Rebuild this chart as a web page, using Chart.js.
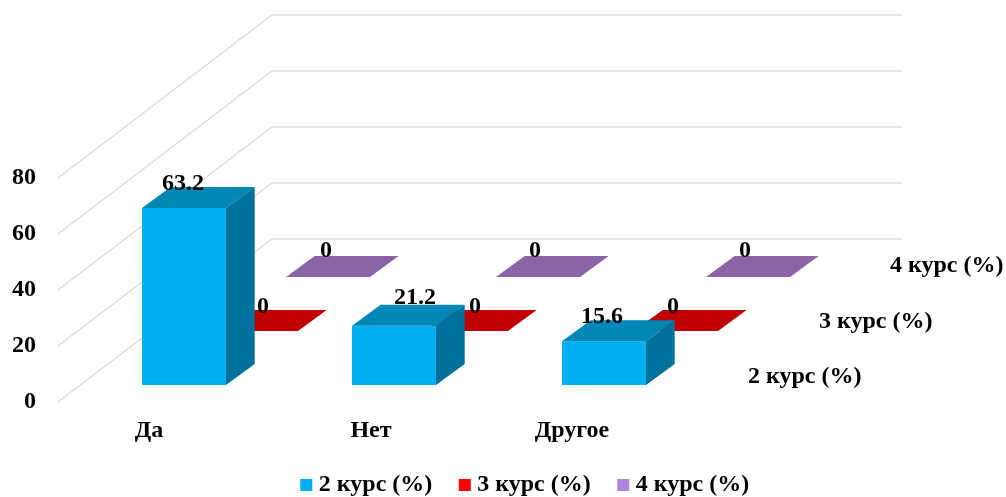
<!DOCTYPE html>
<html><head><meta charset="utf-8">
<style>html,body{margin:0;padding:0;background:#fff}#w{width:1006px;height:497px}</style>
<script src="https://cdn.jsdelivr.net/npm/chart.js@4/dist/chart.umd.min.js"></script>
</head><body><div id="w"><canvas id="c"></canvas></div>
<script>
const categories = ['Да', 'Нет', 'Другое'];
const seriesNames = ['2 курс (%)', '3 курс (%)', '4 курс (%)'];
const course2 = [63.2, 21.2, 15.6];
const course3 = [0, 0, 0];
const course4 = [0, 0, 0];
const yTicks = [0, 20, 40, 60, 80];

const FONT = 'bold 24px "Liberation Serif"';
const FONTOPT = {family:'Liberation Serif',weight:'bold',size:24};
const TXT = '#000';
const GRID = '#dcdcdc';
const faces = [
  {front:'#00B0F0', top:'#0087B5', side:'#00719A'},
  {front:'#FF0000', top:'#C00000', side:'#990000'},
  {front:'#B283DB', top:'#8B64A6', side:'#6A4F80'}
];
const WALL = {dx:214, dy:-163};
const STEP = {dx:72, dy:-54};
const START = {dx:0, dy:-17};
const BAR = {dx:28.7, dy:-21};
const labelNudge = [[-1,21,-2],[7,9,-3],[-2,-3,-3]];
const labelLift = [[24,28,25],[24,24,24],[26,26,26]];
const catNudge = [-35,-23,-32];
const LEGEND_TOP = 441;

const shift = i => ({x:START.dx+STEP.dx*i, y:START.dy+STEP.dy*i});
function poly(ctx, pts, fill){ctx.beginPath();pts.forEach((p,i)=>i?ctx.lineTo(p[0],p[1]):ctx.moveTo(p[0],p[1]));ctx.closePath();ctx.fillStyle=fill;ctx.fill();}

const threeD = {
  id:'threeD',
  afterLayout(chart){
    const l=chart.legend;
    const h=l.bottom-l.top;
    l.left=0; l.right=1055; l.top=LEGEND_TOP; l.bottom=l.top+h;
  },
  beforeDatasetsDraw(chart){
    const {ctx, scales:{y}, chartArea:a} = chart;
    ctx.save();ctx.strokeStyle=GRID;ctx.lineWidth=1.5;
    const left=a.left-21;
    y.ticks.forEach(t=>{
      const py=y.getPixelForValue(t.value);
      ctx.beginPath();ctx.moveTo(left,py);ctx.lineTo(left+WALL.dx,py+WALL.dy);ctx.lineTo(902,py+WALL.dy);ctx.stroke();
    });
    ctx.restore();
  },
  beforeDatasetDraw(chart,args){
    const {ctx}=chart, s=shift(args.index);
    ctx.save();ctx.translate(s.x,s.y);
  },
  afterDatasetDraw(chart,args){
    const {ctx}=chart, f=faces[args.index];
    args.meta.data.forEach(b=>{
      const p=b.getProps(['x','y','base','width'],true);
      const l=p.x-p.width/2, r=p.x+p.width/2;
      poly(ctx,[[r,p.y],[r+BAR.dx,p.y+BAR.dy],[r+BAR.dx,p.base+BAR.dy],[r,p.base]],f.side);
      poly(ctx,[[l,p.y],[r,p.y],[r+BAR.dx,p.y+BAR.dy],[l+BAR.dx,p.y+BAR.dy]],f.top);
    });
    ctx.restore();
  },
  afterDatasetsDraw(chart){
    const {ctx, scales:{x,y}}=chart;
    ctx.save();ctx.font=FONT;ctx.fillStyle=TXT;ctx.textAlign='center';ctx.textBaseline='middle';
    chart.data.datasets.forEach((ds,i)=>{
      const s=shift(i);
      chart.getDatasetMeta(i).data.forEach((b,j)=>{
        ctx.fillText(String(ds.data[j]), b.x+s.x+labelNudge[i][j], b.y+s.y-labelLift[i][j]);
      });
      ctx.textAlign='left';
      ctx.fillText(ds.label, x.right+39+s.x-i, y.getPixelForValue(0)+s.y-8-1.5*i);
      ctx.textAlign='center';
    });
    categories.forEach((c,j)=>ctx.fillText(c,x.getPixelForTick(j)+catNudge[j],431));
    ctx.restore();
  }
};

const mk=(i,data)=>({label:seriesNames[i],data,backgroundColor:faces[i].front,borderWidth:0,clip:false,grouped:false,barPercentage:.4,categoryPercentage:1,pointStyle:'rect'});

new Chart(document.getElementById('c'),{
  type:'bar',
  data:{labels:categories,datasets:[mk(0,course2),mk(1,course3),mk(2,course4)]},
  plugins:[threeD],
  options:{
    responsive:true,maintainAspectRatio:false,animation:false,
    layout:{padding:{top:178,right:297,left:0,bottom:21}},
    plugins:{
      tooltip:{enabled:false},
      legend:{position:'bottom',labels:{font:FONTOPT,color:TXT,usePointStyle:true,boxWidth:1,boxHeight:12,padding:32}}
    },
    scales:{
      x:{grid:{display:false},border:{display:false},ticks:{display:false}},
      y:{min:0,max:80,afterBuildTicks(s){s.ticks=yTicks.map(value=>({value}));},afterFit(s){s.width=79;},
         grid:{display:false},border:{display:false},
         ticks:{color:TXT,font:FONTOPT,padding:35}}
    }
  }
});
</script></body></html>
